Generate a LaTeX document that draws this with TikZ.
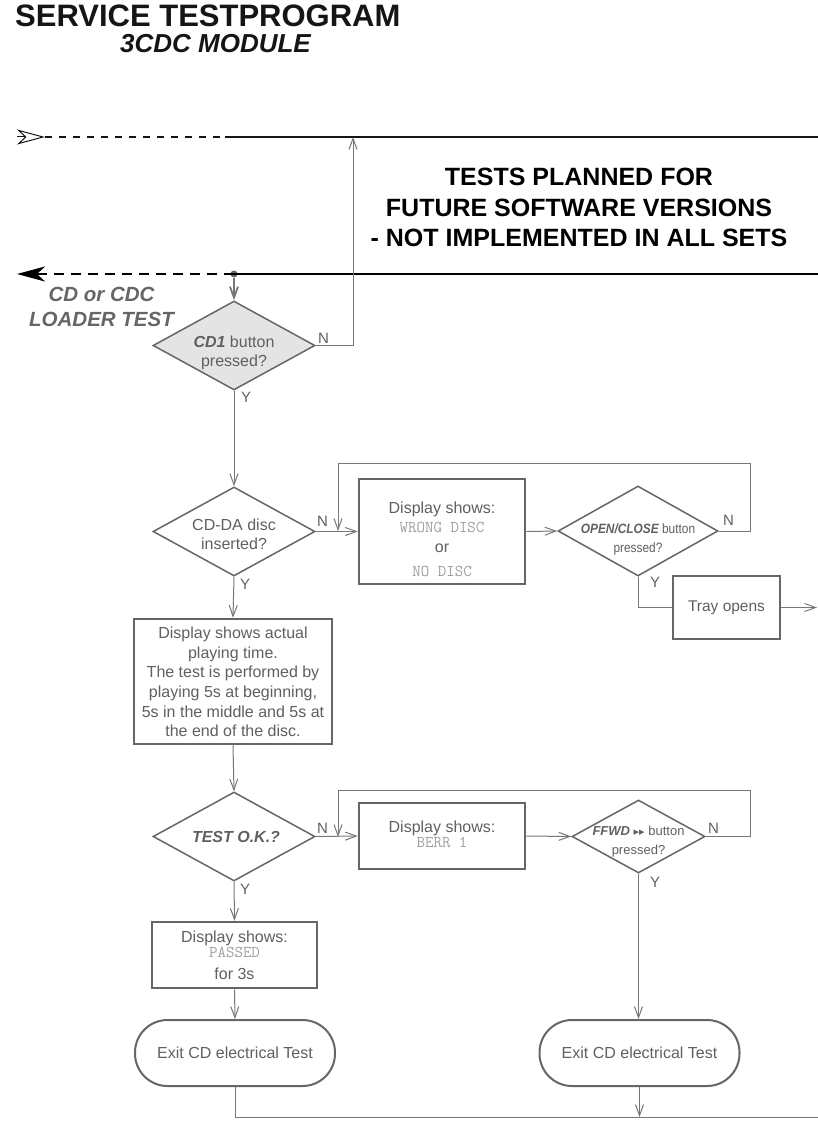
\documentclass[tikz,border=0pt]{standalone}
\usepackage{fontspec}
\setmainfont{Liberation Sans}
\newfontfamily\symfont{DejaVu Sans}
\newfontfamily\narrowfont{Liberation Sans}[FakeStretch=0.88]
\usetikzlibrary{arrows.meta,shapes.geometric}

\definecolor{lc}{HTML}{777777}
\definecolor{bc}{HTML}{666666}
\definecolor{tc}{HTML}{606060}
\definecolor{lcdgray}{HTML}{A0A0A0}
\definecolor{dfill}{HTML}{E4E4E4}
\definecolor{inkblack}{HTML}{151515}

\newcommand\fsz[2]{\fontsize{#1}{#2}\selectfont}
\newcommand\lcd[1]{{\ttfamily\fsz{16.5}{19}\color{lcdgray}#1}}

\begin{document}
\begin{tikzpicture}[x=1pt,y=-1pt,
  every node/.style={inner sep=0pt, text=tc, align=center, font=\fsz{16}{19}},
  conn/.style={draw=lc, line width=1pt},
  arr/.style={conn, -{Straight Barb[length=11pt,width=8pt]}},
  box/.style={draw=bc, line width=2.5pt, rectangle},
  dia/.style={draw=bc, line width=1.5pt, diamond},
  term/.style={draw=bc, line width=2pt, rectangle, rounded corners=32.5pt,
               minimum width=200pt, minimum height=66pt},
  yn/.style={font=\fsz{15}{18}, anchor=base west}]

% page
\fill[white, use as bounding box] (0,0) rectangle (818,1123);

% headings
\node[anchor=base west, font=\bfseries\fsz{31}{37}, text=inkblack] (title) at (15,27) {SERVICE TESTPROGRAM};
\node[anchor=base west, font=\bfseries\itshape\fsz{26}{31}, text=inkblack] (subtitle) at (120,53) {3CDC MODULE};

% entry / exit rails
\coordinate (inTail) at (17,137);
\coordinate (inTip) at (45,137);
\coordinate (railSplit) at (225,137);
\coordinate (railR) at (818,137);
\draw[inkblack, line width=1pt, -{Stealth[open, length=28pt, width=15pt, inset=8pt]}] (inTail) -- (inTip);
\draw[inkblack, line width=1.2pt, dash pattern=on 7pt off 7pt] (inTip) -- (railSplit);
\draw[inkblack, line width=1.2pt] (railSplit) -- (railR);

\node[circle, fill=bc, minimum size=7pt] (jn) at (234,274) {};
\coordinate (outTip) at (17,274);
\coordinate (outR) at (818,274);
\draw[black, line width=2.5pt, dash pattern=on 10pt off 7pt, -{Stealth[length=28pt, width=15pt, inset=8pt]}] (jn.center) -- (outTip);
\draw[black, line width=2.5pt] (jn.center) -- (outR);

\node[font=\bfseries\fsz{25}{30.5}, text=black] (future) at (579,207.5)
  {TESTS PLANNED FOR\\FUTURE SOFTWARE VERSIONS\\- NOT IMPLEMENTED IN ALL SETS};

\node[font=\bfseries\itshape\fsz{20.5}{25}, text=bc] (loader) at (101.5,307.2) {CD or CDC\\LOADER TEST};

% decision: CD1 button
\node[dia, fill=dfill, minimum width=162pt, minimum height=89pt] (cd1) at (234,345.5) {};
\node (cd1t) at (234,352.4) {\textbf{\textit{CD1}} button\\pressed?};
\node[yn] (cd1n) at (318,343) {N};
\node[yn] (cd1y) at (241,402) {Y};
\coordinate (upT) at (353,137);
\draw[arr, line width=1.8pt] (jn) -- (cd1.north);
\draw[arr] (cd1.east) -| (upT);

% decision: disc inserted
\node[dia, minimum width=162pt, minimum height=89pt] (cdda) at (234,531.5) {};
\node (cddat) at (234,534) {CD-DA disc\\inserted?};
\node[yn] (cddan) at (317,526) {N};
\node[yn] (cdday) at (240,589) {Y};
\draw[arr] (cd1.south) -- (cdda.north);

\node[box, minimum width=166pt, minimum height=105pt] (d1) at (442,531.5) {};
\node (d1t) at (442,539.6) {Display shows:\\[0pt]\lcd{WRONG DISC}\\[1pt]or\\[5pt]\lcd{NO DISC}};
\draw[arr] (cdda.east) -- (d1.west);

\node[dia, minimum width=160pt, minimum height=90pt] (oc) at (638,531) {};
\node[font=\narrowfont\fsz{13.5}{19}] (oct) at (638,540)
  {{\bfseries\itshape OPEN/CLOSE} button\\pressed?};
\node[yn] (ocn) at (723,525) {N};
\node[yn] (ocy) at (650,587) {Y};
\draw[arr] (d1.east) -- (oc.west);

\coordinate (l1a) at (750,463);
\coordinate (l1b) at (338,463);
\coordinate (l1c) at (338,531);
\draw[arr] (oc.east) -| (l1a) -- (l1b) -- (l1c);

\node[box, font=\fsz{15.5}{19}, minimum width=107pt, minimum height=63pt] (tray) at (726.5,607.5) {Tray opens};
\coordinate (trayOut) at (817,607.5);
\draw[conn] (oc.south) |- (tray.west);
\draw[arr] (tray.east) -- (trayOut);

% playing test
\node[box, minimum width=198pt, minimum height=125pt] (d2) at (233,681.5) {};
\node (d2t) at (233,682) {Display shows actual\\[0.6pt]playing time.\\[0.6pt]The test is performed by\\[0.6pt]playing 5s at beginning,\\[0.6pt]5s in the middle and 5s at\\[0.6pt]the end of the disc.};
\draw[arr] (cdda.south) -- (d2.north);

% decision: test result
\node[dia, minimum width=162pt, minimum height=89pt] (tok) at (234,836.5) {};
\node[anchor=base, font=\bfseries\itshape\fsz{16}{19}] (tokt) at (236,842) {TEST O.K.?};
\node[yn] (tokn) at (317,833) {N};
\node[yn] (toky) at (240,894) {Y};
\draw[arr] (d2.south) -- (tok.north);

\node[box, minimum width=166pt, minimum height=66pt] (d3) at (442,836) {};
\node (d3t) at (442,834.6) {Display shows:\\[-4pt]\lcd{BERR 1}};
\draw[arr] (tok.east) -- (d3.west);

\node[dia, minimum width=133pt, minimum height=73pt] (ff) at (638.5,836.5) {};
\node[font=\fsz{13}{19}] (fft) at (638.5,842)
  {{\bfseries\itshape FFWD} {\symfont\fsz{11}{19}▸▸} button\\pressed?};
\node[yn] (ffn) at (708,833) {N};
\node[yn] (ffy) at (650,887) {Y};
\draw[arr] (d3.east) -- (ff.west);

\coordinate (l2a) at (750,790);
\coordinate (l2b) at (338,790);
\coordinate (l2c) at (338,837);
\draw[arr] (ff.east) -| (l2a) -- (l2b) -- (l2c);

% results
\node[box, minimum width=165pt, minimum height=66pt] (pass) at (234.5,955) {};
\node (passt) at (234.5,955.6) {Display shows:\\[-4pt]\lcd{PASSED}\\[3pt]for 3s};
\draw[arr] (tok.south) -- (pass.north);

\node[term] (ex1) at (235,1053) {Exit CD electrical Test};
\node[term] (ex2) at (639.5,1053) {Exit CD electrical Test};
\draw[arr] (pass.south) -- (ex1.north);
\draw[arr] (ff.south) -- (ff.south |- ex2.north);

\coordinate (botR) at (818,1117);
\coordinate (m2) at (639.5,1117);
\draw[conn] (ex1.south) |- (botR);
\draw[arr] (ex2.south) -- (m2);

\end{tikzpicture}
\end{document}
